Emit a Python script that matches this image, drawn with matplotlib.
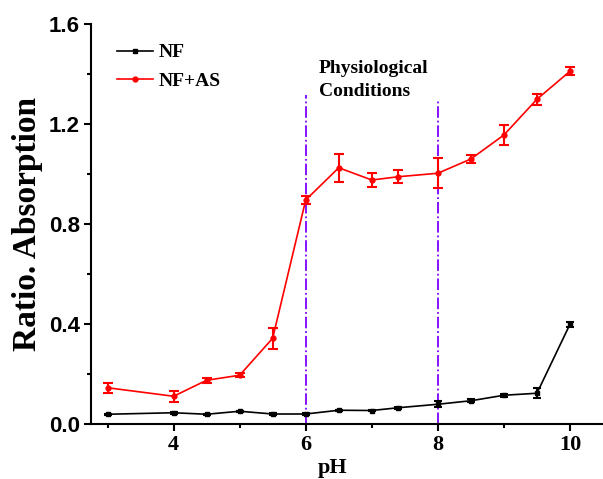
import matplotlib.pyplot as plt
from matplotlib.lines import Line2D

# pH values
ph = [3, 4, 4.5, 5, 5.5, 6, 6.5, 7, 7.4, 8, 8.5, 9, 9.5, 10]

# NF
nf = [0.039, 0.045, 0.039, 0.051, 0.040, 0.040, 0.055, 0.054, 0.065, 0.079,
      0.093, 0.115, 0.123, 0.399]
nf_err = [0.003, 0.003, 0.003, 0.003, 0.003, 0.003, 0.003, 0.003, 0.004, 0.012,
          0.006, 0.007, 0.020, 0.010]

# NF+AS
nfas = [0.145, 0.111, 0.175, 0.195, 0.343, 0.896, 1.025, 0.976, 0.989, 1.003,
        1.060, 1.156, 1.299, 1.411]
nfas_err = [0.019, 0.022, 0.010, 0.008, 0.041, 0.015, 0.055, 0.029, 0.026, 0.060,
            0.017, 0.041, 0.022, 0.016]

# physiological window
phys_lines = [6, 8]
phys_tops = [1.316, 1.296]

serif = ['Liberation Serif', 'DejaVu Serif']
sans = ['Liberation Sans', 'DejaVu Sans']

fig = plt.figure(figsize=(6.03, 4.79), dpi=100)
ax = fig.add_axes([91 / 603, 55 / 479, 512 / 603, 400 / 479])

for x, top in zip(phys_lines, phys_tops):
    ax.plot([x, x], [0, top], color='#7B00FF', linestyle='-.', linewidth=1.3, zorder=1)

ax.errorbar(ph, nf, yerr=nf_err, color='black', marker='s', markersize=3.5,
            linewidth=1.2, capsize=3, capthick=1.5, elinewidth=1.5, zorder=3)
ax.errorbar(ph, nfas, yerr=nfas_err, color='#FF0000', marker='o', markersize=3.5,
            linewidth=1.2, capsize=3.5, capthick=1.5, elinewidth=1.5, zorder=3)

ax.text(6.2, 1.456, 'Physiological\nConditions', fontsize=14, fontweight='bold',
        family=serif, va='top', ha='left', linespacing=1.45)

ax.set_xlim(2.75, 10.5)
ax.set_ylim(0, 1.6)
ax.set_xticks([4, 6, 8, 10])
ax.set_xticks([3, 5, 7, 9], minor=True)
ax.set_yticks([0.0, 0.4, 0.8, 1.2, 1.6])
ax.set_yticks([0.2, 0.6, 1.0, 1.4], minor=True)
ax.set_yticklabels(['0.0', '0.4', '0.8', '1.2', '1.6'], fontsize=16,
                   fontweight='bold', family=sans)
ax.set_xticklabels(['4', '6', '8', '10'], fontsize=16, fontweight='bold', family=serif)

ax.tick_params(which='major', direction='out', length=5, width=1.5, pad=3)
ax.tick_params(which='minor', direction='out', length=3, width=1.5)

for side in ['top', 'right']:
    ax.spines[side].set_visible(False)
for side in ['left', 'bottom']:
    ax.spines[side].set_linewidth(1.5)

ax.set_xlabel('pH', fontsize=16, fontweight='bold', family=serif)
ax.xaxis.set_label_coords((333 - 91) / 512, -0.085)
ax.set_ylabel('Ratio. Absorption', fontsize=24, fontweight='bold', family=serif)
ax.yaxis.set_label_coords((43 - 91) / 512, 0.5)

handles = [
    Line2D([], [], color='black', marker='s', markersize=3.5, linewidth=1.2),
    Line2D([], [], color='#FF0000', marker='o', markersize=3.5, linewidth=1.2),
]
ax.legend(handles, ['NF', 'NF+AS'], loc='upper left',
          bbox_to_anchor=(109 / 603, 1 - 36 / 479), bbox_transform=fig.transFigure,
          frameon=False, prop={'family': serif, 'weight': 'bold', 'size': 14},
          handlelength=1.85, handletextpad=0.3, labelspacing=0.55, borderaxespad=0)

fig.savefig('out.png', dpi=100)
